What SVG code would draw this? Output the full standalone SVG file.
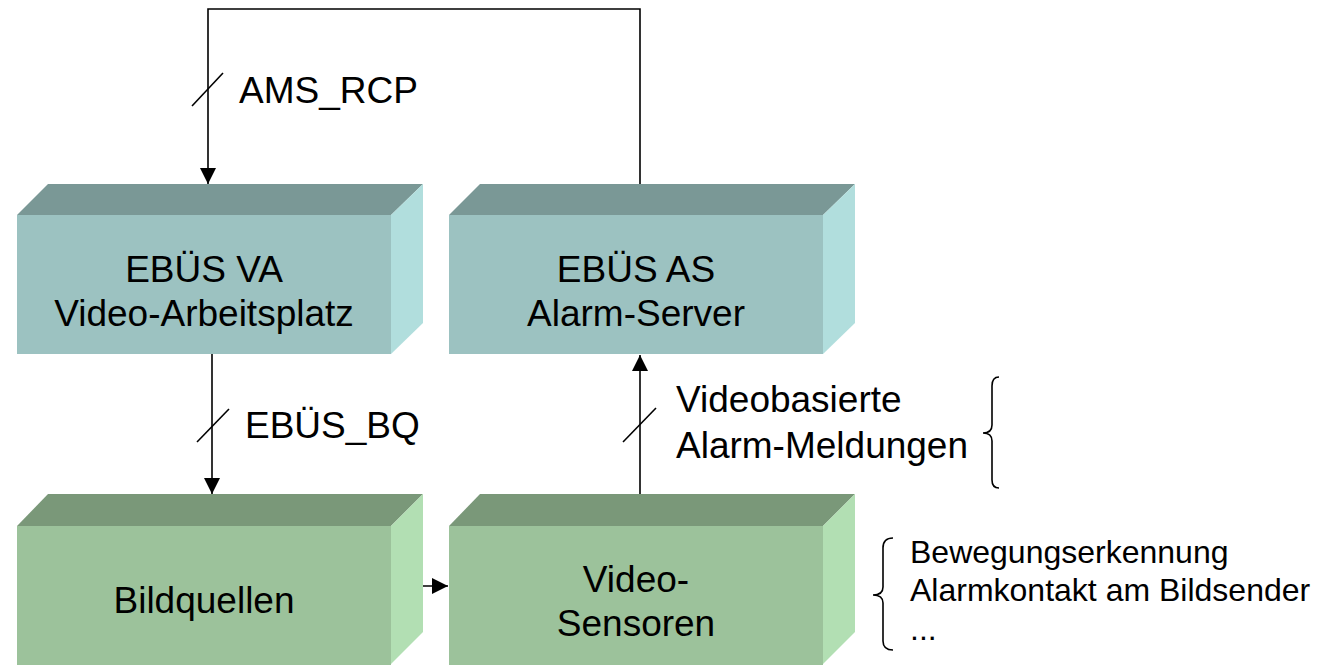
<svg xmlns="http://www.w3.org/2000/svg" width="1319" height="665" viewBox="0 0 1319 665">
<style>
text{font-family:"Liberation Sans",Arial,sans-serif;fill:#000}
.big{font-size:37px}
.mid{font-size:37px}
.sm{font-size:32px}
.c{text-anchor:middle}
.tT{fill:#7A9896}.fT{fill:#9CC2C1}.sT{fill:#B1DEDD}
.tG{fill:#7A9879}.fG{fill:#9CC29B}.sG{fill:#B2DFB3}
.ln{stroke:#000;stroke-width:1.6;fill:none}
.br{stroke:#000;stroke-width:1.6;fill:none}
</style>
<defs>
<marker id="ah" viewBox="0 0 10 10" refX="10" refY="5" markerWidth="16" markerHeight="16" markerUnits="userSpaceOnUse" orient="auto">
<path d="M0,0 L10,5 L0,10 Z" fill="#000"/>
</marker>
</defs>
<g id="connectors">
<polyline class="ln" points="640,184 640,9 208,9 208,184" marker-end="url(#ah)"/>
<line class="ln" x1="192" y1="106" x2="223" y2="73"/>
<line class="ln" x1="212" y1="354" x2="212" y2="494" marker-end="url(#ah)"/>
<line class="ln" x1="197" y1="442" x2="229" y2="409"/>
<line class="ln" x1="640" y1="494" x2="640" y2="355" marker-end="url(#ah)"/>
<line class="ln" x1="623" y1="442" x2="656" y2="408"/>
<line class="ln" x1="400" y1="586" x2="448" y2="586" marker-end="url(#ah)"/>
</g>
<g id="node-va">
<polygon class="tT" points="17,215 48,184 423,184 391,215"/>
<polygon class="sT" points="391,215 423,184 423,323 391,354"/>
<rect class="fT" x="17" y="215" width="374" height="139"/>
<text class="big c" x="204" y="282">EBÜS VA</text>
<text class="big c" x="204" y="326">Video-Arbeitsplatz</text>
</g>
<g id="node-as">
<polygon class="tT" points="449,215 480,184 855,184 823,215"/>
<polygon class="sT" points="823,215 855,184 855,323 823,354"/>
<rect class="fT" x="449" y="215" width="374" height="139"/>
<text class="big c" x="636" y="282">EBÜS AS</text>
<text class="big c" x="636" y="326">Alarm-Server</text>
</g>
<g id="node-bq">
<polygon class="tG" points="17,526 48,494 423,494 391,526"/>
<polygon class="sG" points="391,526 423,494 423,632 391,664"/>
<rect class="fG" x="17" y="526" width="374" height="139"/>
<text class="big c" x="204" y="613">Bildquellen</text>
</g>
<g id="node-vs">
<polygon class="tG" points="449,526 480,494 855,494 823,526"/>
<polygon class="sG" points="823,526 855,494 855,632 823,664"/>
<rect class="fG" x="449" y="526" width="374" height="139"/>
<text class="big c" x="636" y="592">Video-</text>
<text class="big c" x="636" y="636">Sensoren</text>
</g>
<g id="labels">
<text class="mid" x="239" y="103">AMS_RCP</text>
<text class="mid" x="245" y="438">EBÜS_BQ</text>
<text class="mid" x="676" y="412">Videobasierte</text>
<text class="mid" x="676" y="458">Alarm-Meldungen</text>
<path class="br" d="M999,377 Q992,377 992,386 L992,425 Q992,433 983,433 Q992,433 992,441 L992,480 Q992,488 999,488"/>
<path class="br" d="M893,538 Q883,538 883,548 L883,587 Q883,595 873,595 Q883,595 883,603 L883,641 Q883,650 893,650"/>
<text class="sm" x="910" y="563">Bewegungserkennung</text>
<text class="sm" x="910" y="601">Alarmkontakt am Bildsender</text>
<text class="sm" x="910" y="640">...</text>
</g>
</svg>
